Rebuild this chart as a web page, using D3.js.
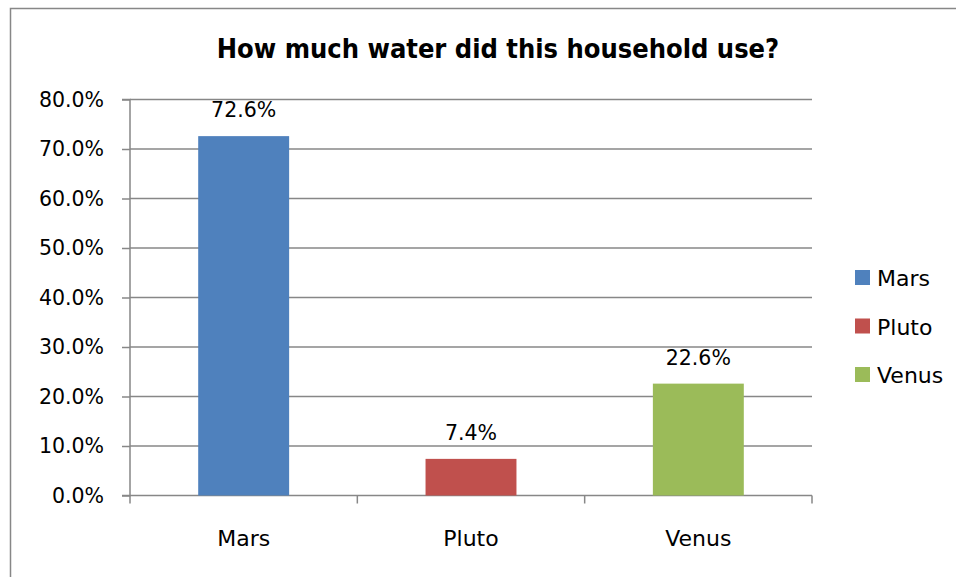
<!DOCTYPE html>
<html>
<head>
<meta charset="utf-8">
<script src="https://cdn.jsdelivr.net/npm/d3@7"></script>
<style>
  body { margin: 0; background: #fff; }
  svg { display: block; font-family: "DejaVu Sans", sans-serif; }
</style>
</head>
<body>
<svg id="chart" width="956" height="577"></svg>
<script>
// data
var categories = ["Mars", "Pluto", "Venus"];
var values = [72.6, 7.4, 22.6];
var colors = ["#4F81BD", "#C0504D", "#9BBB59"];
var yTicks = [0, 10, 20, 30, 40, 50, 60, 70, 80];
var title = "How much water did this household use?";

var svg = d3.select("#chart");

// outer frame (runs off right/bottom edge)
svg.append("rect")
  .attr("x", 10.5).attr("y", 8.5)
  .attr("width", 960).attr("height", 580)
  .attr("fill", "none").attr("stroke", "#878787").attr("stroke-width", 1.5);

var plotLeft = 130, plotRight = 812, plotTop = 99.5, plotBottom = 495.5;

var x = d3.scaleBand()
  .domain(categories)
  .range([plotLeft, plotRight])
  .paddingInner(0.6)
  .paddingOuter(0.3);

var y = d3.scaleLinear().domain([0, 80]).range([plotBottom, plotTop]);

// gridlines
svg.append("g").selectAll("line")
  .data(yTicks.filter(function(d){ return d > 0; }))
  .enter().append("line")
  .attr("x1", plotLeft).attr("x2", plotRight)
  .attr("y1", function(d){ return y(d); })
  .attr("y2", function(d){ return y(d); })
  .attr("stroke", "#878787").attr("stroke-width", 1.5);

// y axis
var yAxis = d3.axisLeft(y)
  .tickValues(yTicks)
  .tickSize(8)
  .tickPadding(18)
  .tickFormat(function(d){ return d.toFixed(1) + "%"; });

var gy = svg.append("g")
  .attr("transform", "translate(" + plotLeft + ",0)")
  .call(yAxis);
gy.select(".domain").attr("stroke", "#878787").attr("stroke-width", 1.5)
  .attr("d", "M-8," + plotTop + "H0V" + plotBottom + "H-8");
gy.selectAll(".tick line").attr("stroke", "#878787").attr("stroke-width", 1.5);
gy.selectAll(".tick text")
  .attr("font-size", 20.5)
  .attr("font-family", "DejaVu Sans")
  .attr("fill", "#000");

// x axis line and tick marks at band boundaries
var bounds = categories.map(function(c){ return x(c) - x.step() * x.paddingInner() / 2; });
bounds[0] = plotLeft;
bounds.push(plotRight);
svg.append("line")
  .attr("x1", plotLeft).attr("x2", plotRight)
  .attr("y1", plotBottom).attr("y2", plotBottom)
  .attr("stroke", "#878787").attr("stroke-width", 1.5);
svg.append("g").selectAll("line")
  .data(bounds)
  .enter().append("line")
  .attr("x1", function(d){ return d; }).attr("x2", function(d){ return d; })
  .attr("y1", plotBottom).attr("y2", plotBottom + 8)
  .attr("stroke", "#878787").attr("stroke-width", 1.5);

// bars
svg.append("g").selectAll("rect")
  .data(values)
  .enter().append("rect")
  .attr("x", function(d, i){ return x(categories[i]); })
  .attr("y", function(d){ return y(d); })
  .attr("width", x.bandwidth())
  .attr("height", function(d){ return plotBottom - y(d); })
  .attr("fill", function(d, i){ return colors[i]; });

// data labels
svg.append("g").selectAll("text")
  .data(values)
  .enter().append("text")
  .attr("x", function(d, i){ return x(categories[i]) + x.bandwidth() / 2; })
  .attr("y", function(d){ return y(d) - 19; })
  .attr("text-anchor", "middle")
  .attr("font-size", 20.5)
  .text(function(d){ return d.toFixed(1) + "%"; });

// category labels
svg.append("g").selectAll("text")
  .data(categories)
  .enter().append("text")
  .attr("x", function(d){ return x(d) + x.bandwidth() / 2; })
  .attr("y", 546)
  .attr("text-anchor", "middle")
  .attr("font-size", 22)
  .text(function(d){ return d; });

// title
svg.append("text")
  .attr("x", 498).attr("y", 58)
  .attr("text-anchor", "middle")
  .attr("font-family", "DejaVu Sans Condensed, DejaVu Sans")
  .attr("font-weight", "bold")
  .attr("font-size", 27)
  .text(title);

// legend
var legend = svg.append("g").selectAll("g")
  .data(categories)
  .enter().append("g")
  .attr("transform", function(d, i){ return "translate(855," + (270 + i * 48.5) + ")"; });
legend.append("rect")
  .attr("width", 15).attr("height", 15)
  .attr("fill", function(d, i){ return colors[i]; });
legend.append("text")
  .attr("x", 22).attr("y", 16)
  .attr("font-size", 22)
  .text(function(d){ return d; });
</script>
</body>
</html>
